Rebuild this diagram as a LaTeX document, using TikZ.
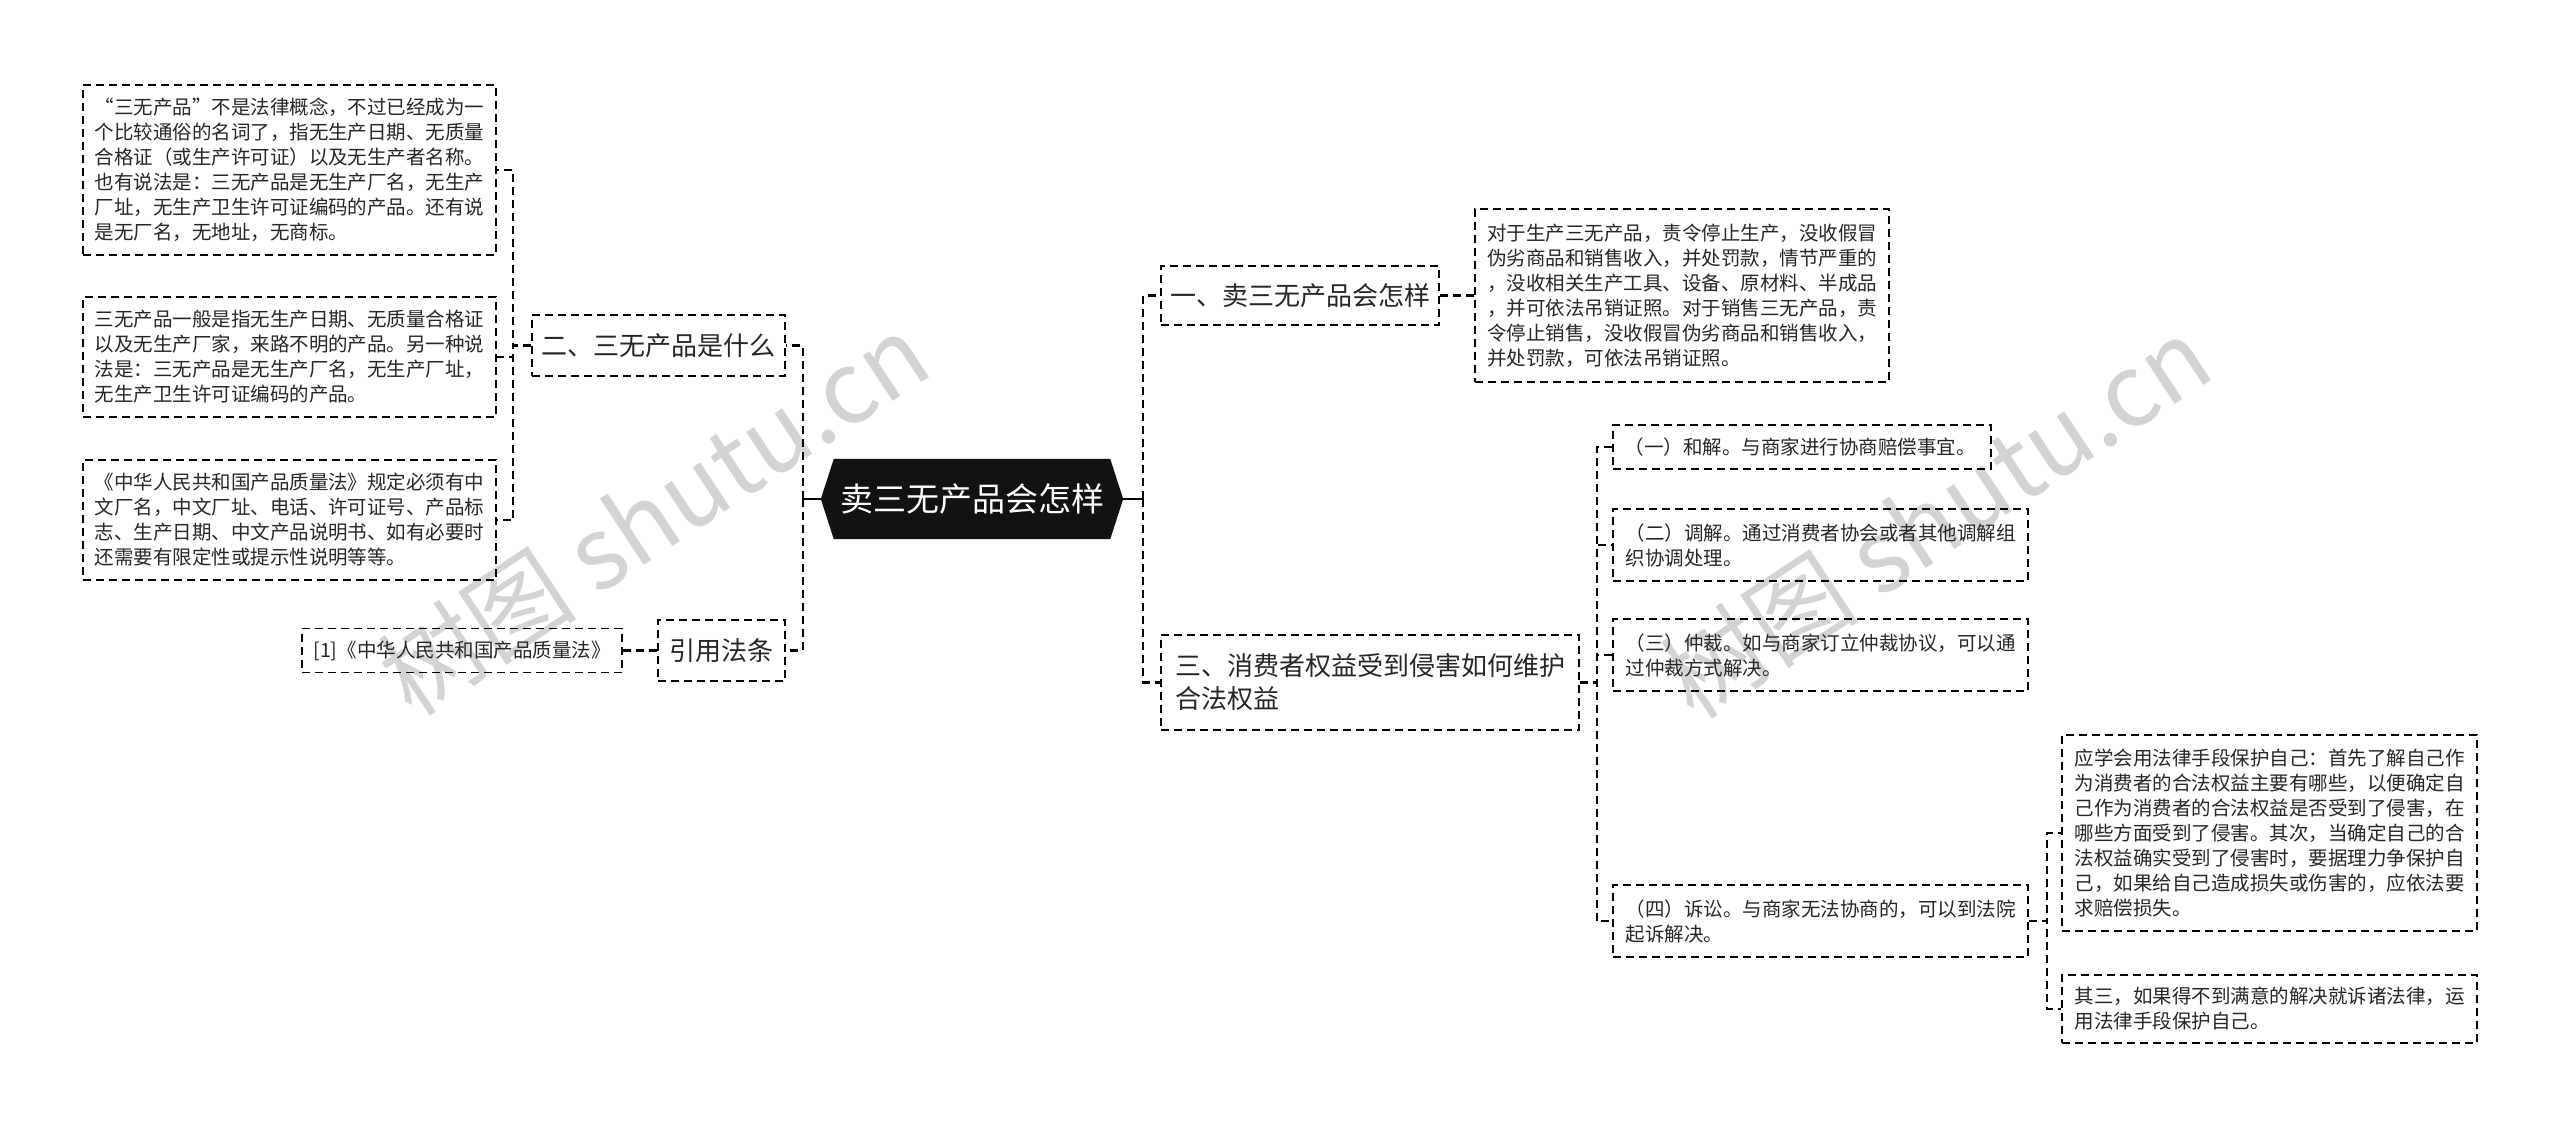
\documentclass[tikz,border=0pt]{standalone}
\usepackage{fontspec}
\newfontfamily\cjk{Noto Sans CJK SC}
\usetikzlibrary{backgrounds}
\definecolor{txt}{HTML}{262626}
\definecolor{rootbg}{HTML}{121212}
\definecolor{wm}{HTML}{D4D4D4}
\tikzset{
  box/.style={draw=black, line width=1.8pt, dash pattern=on 8pt off 5pt, text=txt, align=left, inner xsep=0pt, inner ysep=0pt},
  small/.style={font=\cjk\fontsize{19.5}{25}\selectfont},
  mid/.style={font=\cjk\fontsize{26}{33}\selectfont},
  conn/.style={draw=black, line width=2.4pt, dash pattern=on 8pt off 5pt},
  rootline/.style={draw=black, line width=2.4pt},
  wmark/.style={text=wm, font=\cjk\fontsize{100}{100}\selectfont, rotate=33.4, inner sep=0pt},
}
\begin{document}
\begin{tikzpicture}[x=1pt,y=-1pt]
\useasboundingbox (0,0) rectangle (2560,1128);
% nodes
\node[box, small, minimum width=413pt, minimum height=170pt, text width=390pt] (L1) at (289.5,170) {“三无产品”不是法律概念，不过已经成为一\\个比较通俗的名词了，指无生产日期、无质量\\合格证（或生产许可证）以及无生产者名称。\\也有说法是：三无产品是无生产厂名，无生产\\厂址，无生产卫生许可证编码的产品。还有说\\是无厂名，无地址，无商标。};
\node[box, small, minimum width=413pt, minimum height=120pt, text width=390pt] (L2) at (289.5,357) {三无产品一般是指无生产日期、无质量合格证\\以及无生产厂家，来路不明的产品。另一种说\\法是：三无产品是无生产厂名，无生产厂址，\\无生产卫生许可证编码的产品。};
\node[box, small, minimum width=413pt, minimum height=120pt, text width=390pt] (L3) at (289.5,520) {《中华人民共和国产品质量法》规定必须有中\\文厂名，中文厂址、电话、许可证号、产品标\\志、生产日期、中文产品说明书、如有必要时\\还需要有限定性或提示性说明等等。};
\node[box, mid, minimum width=253pt, minimum height=61pt] (N2) at (658.5,345.5) {二、三无产品是什么};
\node[box, mid, minimum width=127pt, minimum height=61pt] (N4) at (721.5,650.5) {引用法条};
\node[box, small, minimum width=320pt, minimum height=44pt] (R1) at (462,650.5) {[1]《中华人民共和国产品质量法》};
\node[text=white, font=\cjk\fontsize{33}{40}\selectfont, minimum width=302pt, minimum height=80pt, inner sep=0pt] (root) at (972,499) {卖三无产品会怎样};
\node[box, mid, minimum width=278pt, minimum height=59pt] (N1) at (1300,295.5) {一、卖三无产品会怎样};
\node[box, small, minimum width=414pt, minimum height=173pt, text width=390pt] (A1) at (1682,295.5) {对于生产三无产品，责令停止生产，没收假冒\\伪劣商品和销售收入，并处罚款，情节严重的\\，没收相关生产工具、设备、原材料、半成品\\，并可依法吊销证照。对于销售三无产品，责\\令停止销售，没收假冒伪劣商品和销售收入，\\并处罚款，可依法吊销证照。};
\node[box, mid, minimum width=418pt, minimum height=95pt, text width=390pt] (N3) at (1370,682.5) {三、消费者权益受到侵害如何维护\\合法权益};
\node[box, small, minimum width=378pt, minimum height=44pt, text width=355pt] (C1) at (1802,447) {（一）和解。与商家进行协商赔偿事宜。};
\node[box, small, minimum width=415pt, minimum height=72pt, text width=390pt] (C2) at (1820.5,545) {（二）调解。通过消费者协会或者其他调解组\\织协调处理。};
\node[box, small, minimum width=415pt, minimum height=72pt, text width=390pt] (C3) at (1820.5,655) {（三）仲裁。如与商家订立仲裁协议，可以通\\过仲裁方式解决。};
\node[box, small, minimum width=415pt, minimum height=72pt, text width=390pt] (C4) at (1820.5,921) {（四）诉讼。与商家无法协商的，可以到法院\\起诉解决。};
\node[box, small, minimum width=415pt, minimum height=196pt, text width=390pt] (D1) at (2269.5,833) {应学会用法律手段保护自己：首先了解自己作\\为消费者的合法权益主要有哪些，以便确定自\\己作为消费者的合法权益是否受到了侵害，在\\哪些方面受到了侵害。其次，当确定自己的合\\法权益确实受到了侵害时，要据理力争保护自\\己，如果给自己造成损失或伤害的，应依法要\\求赔偿损失。};
\node[box, small, minimum width=415pt, minimum height=68pt, text width=390pt] (D2) at (2269.5,1009) {其三，如果得不到满意的解决就诉诸法律，运\\用法律手段保护自己。};
% background: page, watermark, root hexagon
\begin{pgfonlayer}{background}
\fill[white] (0,0) rectangle (2560,1128);
\node[wmark] (wm1) at (653,514) {树图 shutu.cn};
\node[wmark] (wm2) at (1935,517) {树图 shutu.cn};
\fill[rootbg] (root.west) -- ([xshift=13pt]root.north west) -- ([xshift=-13pt]root.north east) -- (root.east) -- ([xshift=-13pt]root.south east) -- ([xshift=13pt]root.south west) -- cycle;
\end{pgfonlayer}
% connectors
\draw[rootline] (root.west) -- ++(-18,0) coordinate (ls);
\draw[conn] (ls) |- (N2.east);
\draw[conn] (ls) |- (N4.east);
\draw[conn] (N2.west) -- ++(-18,0) |- (L1.east);
\draw[conn] (N2.west) -- ++(-18,0) |- (L2.east);
\draw[conn] (N2.west) -- ++(-18,0) |- (L3.east);
\draw[conn] (N4.west) -- (R1.east);
\draw[rootline] (root.east) -- ++(20,0) coordinate (rs);
\draw[conn] (rs) |- (N1.west);
\draw[conn] (rs) |- (N3.west);
\draw[conn] (N1.east) -- (A1.west);
\draw[conn] (N3.east) -- ++(17,0) |- (C1.west);
\draw[conn] (N3.east) -- ++(17,0) |- (C2.west);
\draw[conn] (N3.east) -- ++(17,0) |- (C3.west);
\draw[conn] (N3.east) -- ++(17,0) |- (C4.west);
\draw[conn] (C4.east) -- ++(18,0) |- (D1.west);
\draw[conn] (C4.east) -- ++(18,0) |- (D2.west);
\end{tikzpicture}
\end{document}
